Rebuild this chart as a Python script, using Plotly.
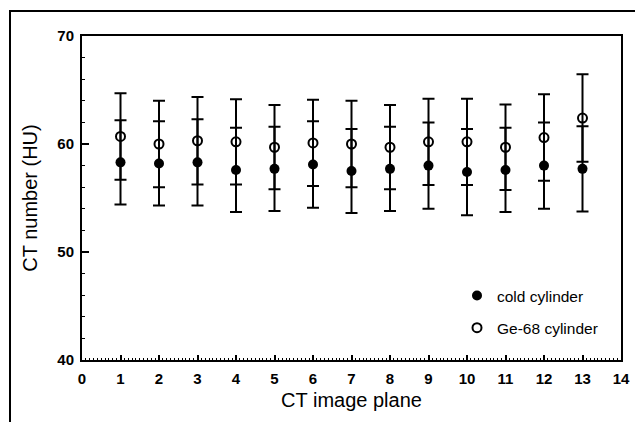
import plotly.graph_objects as go

planes = list(range(1, 14))
cold_mean = [58.3, 58.2, 58.3, 57.6, 57.7, 58.1, 57.5, 57.7, 58.0, 57.4, 57.6, 58.0, 57.7]
cold_sd = [3.9, 3.9, 4.0, 3.9, 3.9, 4.0, 3.9, 3.9, 4.0, 4.0, 3.9, 4.0, 3.95]
ge_mean = [60.7, 60.0, 60.3, 60.2, 59.7, 60.1, 60.0, 59.7, 60.2, 60.2, 59.7, 60.6, 62.4]
ge_sd = [4.0, 4.0, 4.05, 3.95, 3.9, 4.0, 4.0, 3.9, 4.0, 4.0, 3.95, 4.0, 4.05]
x_ticks = list(range(0, 15))
y_ticks = [40, 50, 60, 70]

# page has an 8px body margin, so the figure is sized to fit the window
W, H = 635, 414
L, R, T, B = 74, 22, 28, 62
pw, ph = W - L - R, H - T - B

fig = go.Figure()
fig.add_trace(go.Scatter(
    x=planes, y=cold_mean, mode="markers", name="cold cylinder",
    legendgroup="a",
    marker=dict(symbol="circle", size=10, color="black"),
    error_y=dict(type="data", array=cold_sd, visible=True, color="black",
                 thickness=2, width=6),
))
fig.add_trace(go.Scatter(
    x=planes, y=ge_mean, mode="markers", name="Ge-68 cylinder",
    legendgroup="b",
    marker=dict(symbol="circle-open", size=9, color="black",
                line=dict(width=2, color="black")),
    error_y=dict(type="data", array=ge_sd, visible=True, color="black",
                 thickness=2, width=6),
))

tickfont = dict(family="Liberation Sans Narrow, Arial Narrow, Liberation Sans", size=15,
                color="black", weight="bold")

fig.update_layout(
    width=W, height=H,
    margin=dict(l=L, r=R, t=T, b=B, autoexpand=False),
    paper_bgcolor="white", plot_bgcolor="white",
    showlegend=True,
    legend=dict(x=(449 - L) / pw, y=(T + ph - 271) / ph, xanchor="left", yanchor="top",
                font=dict(family="Liberation Sans, Arial", size=15.5, color="black"),
                bgcolor="rgba(0,0,0,0)", tracegroupgap=9, itemsizing="trace"),
    xaxis=dict(
        range=[0, 14], tickmode="array", tickvals=x_ticks,
        ticks="inside", ticklen=5, tickwidth=1.5, tickcolor="black",
        showline=True, linewidth=2, linecolor="black", mirror=True,
        showgrid=False, zeroline=False, tickfont=tickfont, ticklabelstandoff=4,
        minor=dict(dtick=0.1, ticks="inside", ticklen=2, tickwidth=1, tickcolor="black"),
        title=dict(text="CT image plane", font=dict(family="Liberation Sans, Arial", size=20, color="black"),
                   standoff=7),
    ),
    yaxis=dict(
        range=[40, 70], tickmode="array", tickvals=y_ticks,
        ticks="inside", ticklen=7, tickwidth=1.5, tickcolor="black",
        showline=True, linewidth=2, linecolor="black", mirror=True,
        showgrid=False, zeroline=False, tickfont=tickfont, ticklabelstandoff=3,
        minor=dict(dtick=2, ticks="inside", ticklen=3, tickwidth=1, tickcolor="black"),
        title=dict(text="CT number (HU)", font=dict(family="Liberation Sans, Arial", size=20, color="black"),
                   standoff=14),
    ),
    shapes=[dict(type="rect", xref="paper", yref="paper",
                 x0=(2 - L) / pw, x1=(W + 20 - L) / pw,
                 y0=(T + ph - (H + 20)) / ph, y1=(T + ph - 3) / ph,
                 line=dict(color="black", width=2), fillcolor="rgba(0,0,0,0)", layer="above")],
)

fig.write_html("out.html")
